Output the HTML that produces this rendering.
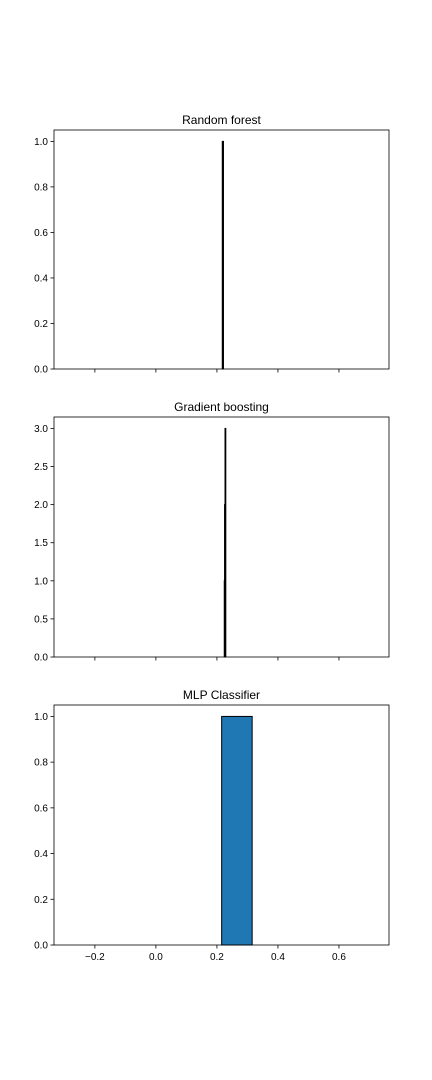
<!DOCTYPE html>
<html><head><meta charset="utf-8"><style>body{margin:0;background:#fff}svg{display:block;font-family:"Liberation Sans","DejaVu Sans",sans-serif}</style></head>
<body>
<svg id="fig" width="432" height="1080" viewBox="0 0 432 1080"></svg>
<script>
const xTicks=[-0.2,0.0,0.2,0.4,0.6];
const xTickLabels=["−0.2","0.0","0.2","0.4","0.6"];
const titles=["Random forest","Gradient boosting","MLP Classifier"];
const rfLeft=[0.2175];const rfWidth=[0.004];const rfHeight=[1];
const gbLeft=[0.2240,0.2250,0.2265];const gbWidth=[0.0025,0.002,0.0015];const gbHeight=[1,2,3];
const mlpLeft=[0.2155];const mlpWidth=[0.1];const mlpHeight=[1];
const yTicks1=[0,0.2,0.4,0.6,0.8,1.0];const yLab1=["0.0","0.2","0.4","0.6","0.8","1.0"];
const yTicks2=[0,0.5,1,1.5,2,2.5,3];const yLab2=["0.0","0.5","1.0","1.5","2.0","2.5","3.0"];
const NS="http://www.w3.org/2000/svg";const svg=document.getElementById('fig');
const L=54,R=389,xmin=-0.334,xmax=0.764;
const sx=v=>L+(v-xmin)/(xmax-xmin)*(R-L);
function mk(t,a,p){const e=document.createElementNS(NS,t);for(const k in a)e.setAttribute(k,a[k]);(p||svg).appendChild(e);return e;}
const panels=[
{top:130,bot:369,ymax:1.05,yt:yTicks1,yl:yLab1,lefts:rfLeft,ws:rfWidth,hs:rfHeight,fill:"#000",name:"random-forest"},
{top:417,bot:657,ymax:3.15,yt:yTicks2,yl:yLab2,lefts:gbLeft,ws:gbWidth,hs:gbHeight,fill:"#000",name:"gradient-boosting"},
{top:705,bot:945,ymax:1.05,yt:yTicks1,yl:yLab1,lefts:mlpLeft,ws:mlpWidth,hs:mlpHeight,fill:"#1f77b4",name:"mlp-classifier"}];
panels.forEach((p,i)=>{
 const g=mk('g',{});
 
 
 const sy=v=>p.bot-v/p.ymax*(p.bot-p.top);
 p.lefts.forEach((l,j)=>{
  const x0=sx(l),x1=sx(l+p.ws[j]);
  const r=mk('rect',{x:x0,y:sy(p.hs[j]),width:Math.max(x1-x0,0.8),height:p.bot-sy(p.hs[j]),fill:p.fill,stroke:"#000","stroke-width":1},g);
  
  
 });
 const f=mk('rect',{x:L,y:p.top,width:R-L,height:p.bot-p.top,fill:"none",stroke:"#000","stroke-width":0.8},g);
 
 
 const t=mk('text',{x:(L+R)/2,y:p.top-6,"text-anchor":"middle","font-size":12},g);t.textContent=titles[i];
 
 
 p.yt.forEach((v,j)=>{const y=sy(v);mk('line',{x1:L-3.5,x2:L,y1:y,y2:y,stroke:"#000","stroke-width":0.8},g);
  const tx=mk('text',{x:L-6,y:y+3.5,"text-anchor":"end","font-size":10},g);tx.textContent=p.yl[j];
  
  });
 xTicks.forEach((v,j)=>{const x=sx(v);mk('line',{x1:x,x2:x,y1:p.bot,y2:p.bot+3.5,stroke:"#000","stroke-width":0.8},g);
  if(i===2){const tx=mk('text',{x:x,y:p.bot+15,"text-anchor":"middle","font-size":10},g);tx.textContent=xTickLabels[j];
  
  }});
});
</script>
</body></html>
